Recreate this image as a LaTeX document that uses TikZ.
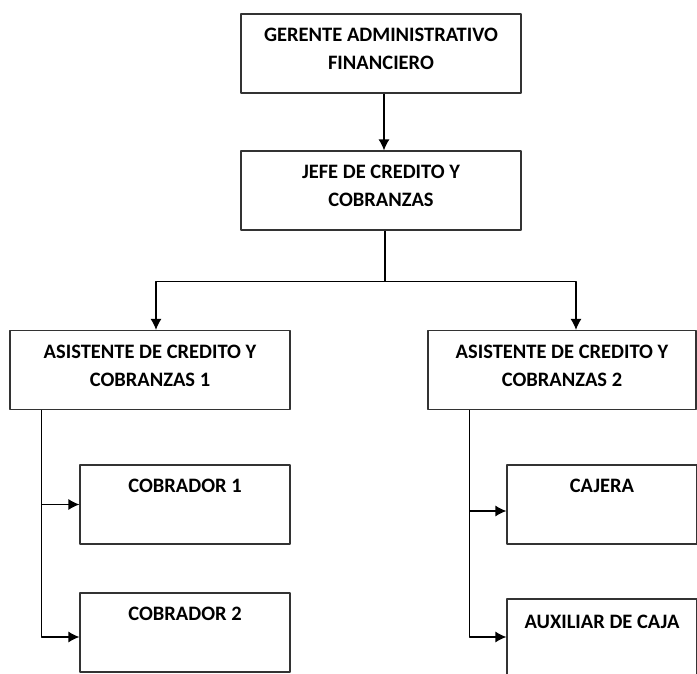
\documentclass[tikz,border=0pt]{standalone}
\usepackage{fontspec}
\setmainfont{Carlito}
\usetikzlibrary{arrows.meta}
\begin{document}
\begin{tikzpicture}[x=1pt,y=-1pt,line width=1.2pt,line join=round,
    flecha/.style={-{Latex[length=11pt,width=11pt]}},
    cargo/.style={draw=black!80,minimum width=#1,minimum height=79pt,inner sep=0pt,
      align=center,text depth=9pt,font=\fontsize{20.5}{28}\selectfont\bfseries}]
  \useasboundingbox (0,0) rectangle (697,673);
  \node[cargo=280pt] (ger) at (381,53.5) {GERENTE ADMINISTRATIVO\\FINANCIERO};
  \node[cargo=280pt] (jefe) at (381,190.5) {JEFE DE CREDITO Y\\COBRANZAS};
  \node[cargo=280pt] (asis1) at (150,370) {ASISTENTE DE CREDITO Y\\COBRANZAS 1};
  \node[cargo=268pt] (asis2) at (562,370) {ASISTENTE DE CREDITO Y\\COBRANZAS 2};
  \node[cargo=210pt] (cob1) at (185,504.5) {COBRADOR 1\\\mbox{}};
  \node[cargo=210pt] (cob2) at (185,632.5) {COBRADOR 2\\\mbox{}};
  \node[cargo=190pt] (caj) at (602,504.5) {CAJERA\\\mbox{}};
  \node[cargo=190pt,minimum height=82pt] (aux) at (602,640) {AUXILIAR DE CAJA\\\mbox{}};

  \draw[flecha] ([xshift=3pt]ger.south) -- ([xshift=3pt]jefe.north);
  \coordinate (split) at ([xshift=4pt,yshift=-51pt]jefe.south);
  \draw ([xshift=4pt]jefe.south) -- (split);
  \draw[flecha] (split) -| ([xshift=6pt]asis1.north);
  \draw[flecha] (split) -| ([xshift=14pt]asis2.north);

  \coordinate (b1) at ([xshift=32pt]asis1.south west);
  \coordinate (b2) at ([xshift=42pt]asis2.south west);
  \draw[flecha] (b1) |- (cob1.west);
  \draw[flecha] (b1) |- ([yshift=-4.5pt]cob2.west);
  \draw[flecha] (b2) |- ([yshift=-6.5pt]caj.west);
  \draw[flecha] (b2) |- ([yshift=3pt]aux.west);
\end{tikzpicture}
\end{document}
